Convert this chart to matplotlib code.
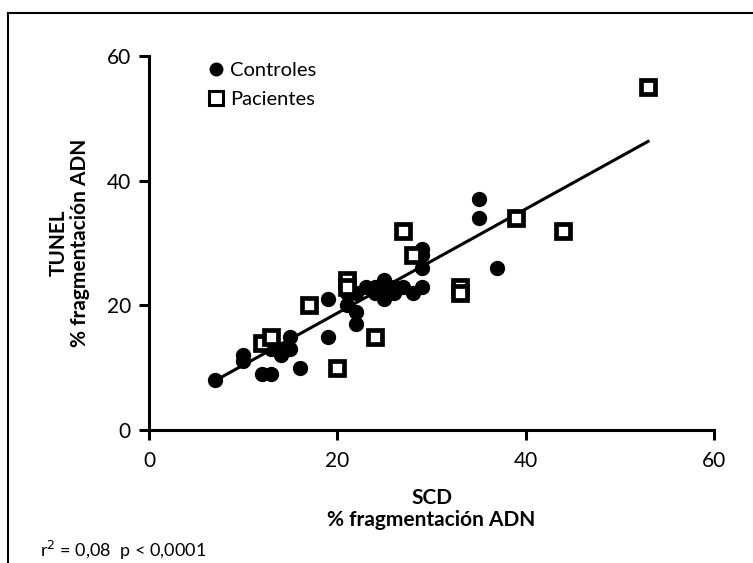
import matplotlib
matplotlib.use("Agg")
import matplotlib.pyplot as plt
from matplotlib.lines import Line2D

plt.rcParams['font.family'] = ['Lato', 'DejaVu Sans']

# Data
controles_x = [7, 10, 10, 12, 13, 13, 14, 14, 15, 15, 16, 19, 19, 21, 22, 22, 22, 23, 24, 24,
               25, 25, 25, 26, 26, 28, 29, 29, 29, 29, 35, 35, 37, 21, 27]
controles_y = [8, 12, 11, 9, 9, 13, 12, 13, 15, 13, 10, 21, 15, 20, 19, 17, 22, 23, 23, 22,
               24, 22, 21, 23, 22, 22, 23, 26, 28, 29, 37, 34, 26, 22, 23]
pacientes_x = [12, 13, 17, 20, 21, 21, 24, 27, 28, 33, 33, 39, 44, 53]
pacientes_y = [14, 15, 20, 10, 24, 23, 15, 32, 28, 23, 22, 34, 32, 55]
fit_x = [7, 53]
fit_y = [7.9, 46.3]
x_ticks = [0, 20, 40, 60]
y_ticks = [0, 20, 40, 60]

fig = plt.figure(figsize=(7.53, 5.63), dpi=100)
ax = fig.add_axes([149/753, 1 - 430/563, 565/753, 374/563])

ax.plot(fit_x, fit_y, color='black', lw=2.2, zorder=2)
ax.plot(controles_x, controles_y, 'o', color='black', ms=10, zorder=3, clip_on=False)
ax.plot(pacientes_x, pacientes_y, 's', mfc='white', mec='black', mew=3.4, ms=10.5,
        zorder=4, clip_on=False)

ax.set_xlim(0, 60)
ax.set_ylim(0, 60)
ax.set_xticks(x_ticks)
ax.set_yticks(y_ticks)
for s in ['top', 'right']:
    ax.spines[s].set_visible(False)
for s in ['left', 'bottom']:
    ax.spines[s].set_linewidth(2.2)
ax.tick_params(axis='both', direction='out', length=7, width=2.2, labelsize=15)
ax.tick_params(axis='x', pad=8)
ax.tick_params(axis='y', pad=6)

ax.set_xlabel('SCD\n% fragmentación ADN', fontsize=15, fontweight='bold', labelpad=12,
              linespacing=1.15)
ax.set_ylabel('TUNEL\n% fragmentación ADN', fontsize=15, fontweight='bold', labelpad=12,
              linespacing=1.1)

handles = [Line2D([], [], marker='o', ls='', color='black', ms=9),
           Line2D([], [], marker='s', ls='', mfc='white', mec='black', mew=2.2, ms=10)]
ax.legend(handles, ['Controles', 'Pacientes'], loc='upper left',
          bbox_to_anchor=((196 - 149) / 565, 1.005), frameon=False, fontsize=14.5,
          handletextpad=0.1, handlelength=1.2, labelspacing=0.6, borderaxespad=0)

fig.text(40/753, 1 - 550/563, r'r$^2$ = 0,08  p < 0,0001', fontsize=13, va='center', ha='left')

# outer frame lines (left and top)
fig.add_artist(Line2D([8/753, 8/753], [0, 1 - 13/563], transform=fig.transFigure,
                      color='black', lw=1.5))
fig.add_artist(Line2D([8/753, 1], [1 - 13/563, 1 - 13/563], transform=fig.transFigure,
                      color='black', lw=1.5))

fig.savefig('out.png', dpi=100)
